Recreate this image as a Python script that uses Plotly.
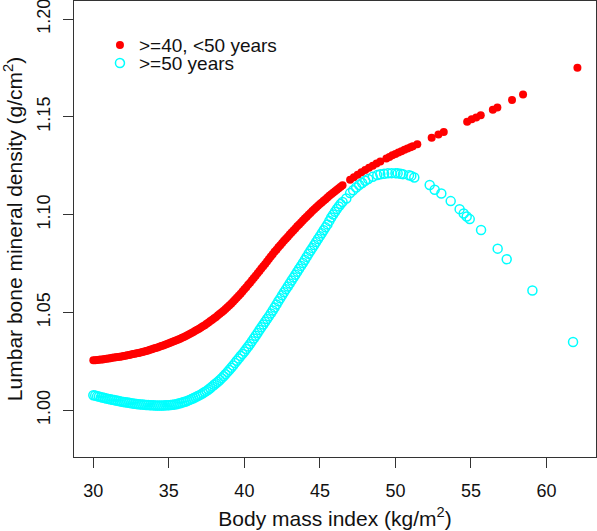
import plotly.graph_objects as go

# ---------------- data ----------------
bmi_40_50 = [
    30.000, 30.125, 30.250, 30.375, 30.500, 30.625, 30.750, 30.875,
    31.000, 31.125, 31.250, 31.375, 31.500, 31.625, 31.750, 31.875,
    32.000, 32.125, 32.250, 32.375, 32.500, 32.625, 32.750, 32.875,
    33.000, 33.125, 33.250, 33.375, 33.500, 33.625, 33.750, 33.875,
    34.000, 34.125, 34.250, 34.375, 34.500, 34.625, 34.750, 34.875,
    35.000, 35.125, 35.250, 35.375, 35.500, 35.625, 35.750, 35.875,
    36.000, 36.125, 36.250, 36.375, 36.500, 36.625, 36.750, 36.875,
    37.000, 37.125, 37.250, 37.375, 37.500, 37.625, 37.750, 37.875,
    38.000, 38.125, 38.250, 38.375, 38.500, 38.625, 38.750, 38.875,
    39.000, 39.125, 39.250, 39.375, 39.500, 39.625, 39.750, 39.875,
    40.000, 40.125, 40.250, 40.375, 40.500, 40.625, 40.750, 40.875,
    41.000, 41.125, 41.250, 41.375, 41.500, 41.625, 41.750, 41.875,
    42.000, 42.125, 42.250, 42.375, 42.500, 42.625, 42.750, 42.875,
    43.000, 43.125, 43.250, 43.375, 43.500, 43.625, 43.750, 43.875,
    44.000, 44.125, 44.250, 44.375, 44.500, 44.625, 44.750, 44.875,
    45.000, 45.125, 45.250, 45.375, 45.500, 45.625, 45.750, 45.875,
    46.000, 46.125, 46.250, 46.375, 46.500,
    47.00, 47.25, 47.50, 47.75, 48.00, 48.25, 48.50, 48.75, 49.00, 49.40,
    49.60, 49.80, 50.00, 50.20, 50.40, 50.60, 50.80, 51.00, 51.15, 51.45,
    52.40, 52.85, 53.20, 54.75, 55.05, 55.35, 55.65, 56.45, 56.75, 57.72,
    58.45, 62.05]
bmd_40_50 = [
    1.0255, 1.0256, 1.0257, 1.0258, 1.0259, 1.0260, 1.0262, 1.0263,
    1.0265, 1.0266, 1.0268, 1.0269, 1.0271, 1.0272, 1.0274, 1.0275,
    1.0277, 1.0279, 1.0281, 1.0283, 1.0285, 1.0287, 1.0289, 1.0291,
    1.0293, 1.0295, 1.0298, 1.0300, 1.0303, 1.0306, 1.0309, 1.0312,
    1.0315, 1.0318, 1.0321, 1.0324, 1.0328, 1.0331, 1.0335, 1.0338,
    1.0342, 1.0346, 1.0350, 1.0354, 1.0358, 1.0362, 1.0366, 1.0370,
    1.0375, 1.0380, 1.0385, 1.0390, 1.0395, 1.0400, 1.0406, 1.0411,
    1.0417, 1.0423, 1.0429, 1.0435, 1.0442, 1.0449, 1.0456, 1.0463,
    1.0470, 1.0477, 1.0485, 1.0493, 1.0501, 1.0509, 1.0518, 1.0527,
    1.0536, 1.0545, 1.0555, 1.0565, 1.0575, 1.0585, 1.0596, 1.0607,
    1.0618, 1.0629, 1.0641, 1.0652, 1.0664, 1.0676, 1.0688, 1.0700,
    1.0712, 1.0724, 1.0736, 1.0748, 1.0761, 1.0773, 1.0786, 1.0798,
    1.0810, 1.0821, 1.0833, 1.0844, 1.0855, 1.0866, 1.0877, 1.0887,
    1.0898, 1.0908, 1.0919, 1.0929, 1.0940, 1.0950, 1.0960, 1.0970,
    1.0980, 1.0989, 1.0999, 1.1008, 1.1018, 1.1027, 1.1036, 1.1045,
    1.1054, 1.1062, 1.1071, 1.1079, 1.1088, 1.1096, 1.1104, 1.1112,
    1.1120, 1.1127, 1.1135, 1.1142, 1.1150,
    1.1178, 1.1191, 1.1204, 1.1216, 1.1228, 1.1239, 1.1250, 1.1261, 1.1271, 1.1287,
    1.1295, 1.1303, 1.1310, 1.1317, 1.1324, 1.1331, 1.1338, 1.1345, 1.1350, 1.1360,
    1.1393, 1.1410, 1.1422, 1.1475, 1.1487, 1.1497, 1.1508, 1.1536, 1.1547, 1.1586,
    1.1614, 1.1751]

bmi_50 = [
    30.000, 30.125, 30.250, 30.375, 30.500, 30.625, 30.750, 30.875,
    31.000, 31.125, 31.250, 31.375, 31.500, 31.625, 31.750, 31.875,
    32.000, 32.125, 32.250, 32.375, 32.500, 32.625, 32.750, 32.875,
    33.000, 33.125, 33.250, 33.375, 33.500, 33.625, 33.750, 33.875,
    34.000, 34.125, 34.250, 34.375, 34.500, 34.625, 34.750, 34.875,
    35.000, 35.125, 35.250, 35.375, 35.500, 35.625, 35.750, 35.875,
    36.000, 36.125, 36.250, 36.375, 36.500, 36.625, 36.750, 36.875,
    37.000, 37.125, 37.250, 37.375, 37.500, 37.625, 37.750, 37.875,
    38.000, 38.125, 38.250, 38.375, 38.500, 38.625, 38.750, 38.875,
    39.000, 39.125, 39.250, 39.375, 39.500, 39.625, 39.750, 39.875,
    40.000, 40.125, 40.250, 40.375, 40.500, 40.625, 40.750, 40.875,
    41.000, 41.125, 41.250, 41.375, 41.500, 41.625, 41.750, 41.875,
    42.000, 42.125, 42.250, 42.375, 42.500, 42.625, 42.750, 42.875,
    43.000, 43.125, 43.250, 43.375, 43.500, 43.625, 43.750, 43.875,
    44.000, 44.125, 44.250, 44.375, 44.500, 44.625, 44.750, 44.875,
    45.000, 45.125, 45.250, 45.375, 45.500, 45.625, 45.750, 45.875,
    46.000, 46.125, 46.250, 46.375, 46.500,
    46.75, 47.00, 47.20, 47.40, 47.60, 47.80, 48.00, 48.20, 48.50, 48.80,
    49.00, 49.25, 49.50, 49.75, 50.00, 50.15, 50.35, 50.50, 50.90, 51.05,
    51.25, 52.27, 52.60, 53.04, 53.66, 54.25, 54.52, 54.72, 54.92, 55.67,
    56.77, 57.37, 59.07, 61.76]
bmd_50 = [
    1.0077, 1.0075, 1.0072, 1.0070, 1.0067, 1.0065, 1.0062, 1.0060,
    1.0058, 1.0056, 1.0054, 1.0052, 1.0050, 1.0048, 1.0046, 1.0044,
    1.0042, 1.0041, 1.0039, 1.0038, 1.0036, 1.0035, 1.0033, 1.0032,
    1.0031, 1.0030, 1.0029, 1.0028, 1.0027, 1.0027, 1.0026, 1.0025,
    1.0025, 1.0024, 1.0024, 1.0024, 1.0024, 1.0024, 1.0025, 1.0025,
    1.0026, 1.0027, 1.0028, 1.0030, 1.0031, 1.0034, 1.0036, 1.0039,
    1.0042, 1.0045, 1.0049, 1.0053, 1.0057, 1.0061, 1.0066, 1.0071,
    1.0076, 1.0081, 1.0087, 1.0093, 1.0099, 1.0106, 1.0114, 1.0122,
    1.0130, 1.0138, 1.0146, 1.0155, 1.0164, 1.0174, 1.0184, 1.0195,
    1.0206, 1.0217, 1.0229, 1.0241, 1.0253, 1.0265, 1.0277, 1.0288,
    1.0300, 1.0313, 1.0326, 1.0339, 1.0353, 1.0367, 1.0381, 1.0395,
    1.0410, 1.0424, 1.0438, 1.0452, 1.0466, 1.0480, 1.0495, 1.0510,
    1.0525, 1.0541, 1.0557, 1.0572, 1.0588, 1.0603, 1.0618, 1.0633,
    1.0648, 1.0663, 1.0678, 1.0693, 1.0708, 1.0723, 1.0738, 1.0753,
    1.0768, 1.0784, 1.0800, 1.0815, 1.0830, 1.0845, 1.0860, 1.0875,
    1.0890, 1.0905, 1.0920, 1.0935, 1.0950, 1.0968, 1.0985, 1.1000,
    1.1015, 1.1029, 1.1042, 1.1054, 1.1065,
    1.1082, 1.1110, 1.1125, 1.1139, 1.1151, 1.1162, 1.1173, 1.1182, 1.1193, 1.1202,
    1.1206, 1.1209, 1.1211, 1.1212, 1.1212, 1.1211, 1.1209, 1.1207, 1.1201, 1.1198,
    1.1190, 1.1151, 1.1127, 1.1108, 1.1069, 1.1028, 1.1006, 1.0990, 1.0977, 1.0921,
    1.0826, 1.0772, 1.0612, 1.0349]

series_names = [">=40, &lt;50 years", ">=50 years"]
x_ticks = [30, 35, 40, 45, 50, 55, 60]
x_tick_labels = ["30", "35", "40", "45", "50", "55", "60"]
y_ticks = [1.00, 1.05, 1.10, 1.15, 1.20]
y_tick_labels = ["1.00", "1.05", "1.10", "1.15", "1.20"]
x_title = "Body mass index (kg/m<sup>2</sup>)"
y_title = "Lumbar bone mineral density (g/cm<sup>2</sup>)"

# ---------------- figure ----------------
W, H = 597, 531
L, R, T, B = 74, 0.5, 1, 74.3
FONT = "Liberation Sans, Arial, Helvetica, sans-serif"

fig = go.Figure()
fig.add_trace(go.Scatter(
    x=bmi_40_50, y=bmd_40_50, mode="markers", name=series_names[0],
    marker=dict(symbol="circle", size=8, color="#FF0000", line=dict(width=0)),
    showlegend=False))
fig.add_trace(go.Scatter(
    x=bmi_50, y=bmd_50, mode="markers", name=series_names[1],
    marker=dict(symbol="circle-open", size=9, color="#00FFFF",
                line=dict(width=1.5, color="#00FFFF")),
    showlegend=False))

axis_common = dict(showgrid=False, zeroline=False, showline=True, mirror=True,
                   linecolor="#333333", linewidth=1, ticks="outside", ticklen=10,
                   tickwidth=1, tickcolor="#333333", ticklabeloverflow="allow",
                   tickfont=dict(family=FONT, size=18, color="#111111"))

fig.update_xaxes(range=[28.72, 63.28], tickvals=x_ticks, ticktext=x_tick_labels,
                 title=dict(text=x_title, font=dict(family=FONT, size=21, color="#111111"),
                            standoff=11),
                 ticklabelstandoff=7, **axis_common)
fig.update_yaxes(range=[0.9761, 1.2092], tickvals=y_ticks, ticktext=y_tick_labels,
                 tickangle=-90,
                 title=dict(text=y_title, font=dict(family=FONT, size=21, color="#111111"),
                            standoff=12),
                 ticklabelstandoff=6, **axis_common)

# manual legend (R-style, tight row spacing)
def px2paper(px, py):
    return (px - L) / (W - L - R), (H - B - py) / (H - T - B)

legend_rows = [(45, dict(fillcolor="#FF0000", line=dict(width=0)), 4),
               (63, dict(fillcolor="rgba(0,0,0,0)", line=dict(color="#00FFFF", width=1.5)), 4.5)]
for (py, style, r), name in zip(legend_rows, series_names):
    mx, my = px2paper(120, py)
    fig.add_shape(type="circle", xref="paper", yref="paper", xsizemode="pixel",
                  ysizemode="pixel", xanchor=mx, yanchor=my, x0=-r, x1=r, y0=-r, y1=r, **style)
    tx, ty = px2paper(137, py)
    fig.add_annotation(x=tx, y=ty, xref="paper", yref="paper", text=name, showarrow=False,
                       xanchor="left", yanchor="middle",
                       font=dict(family=FONT, size=19, color="#111111"))

fig.update_layout(width=W, height=H, margin=dict(l=L, r=R, t=T, b=B, autoexpand=False),
                  plot_bgcolor="white", paper_bgcolor="white")

fig.write_html("out.html", config={"displayModeBar": False},
               post_script="document.body.style.margin='0';document.body.style.padding='0';")
